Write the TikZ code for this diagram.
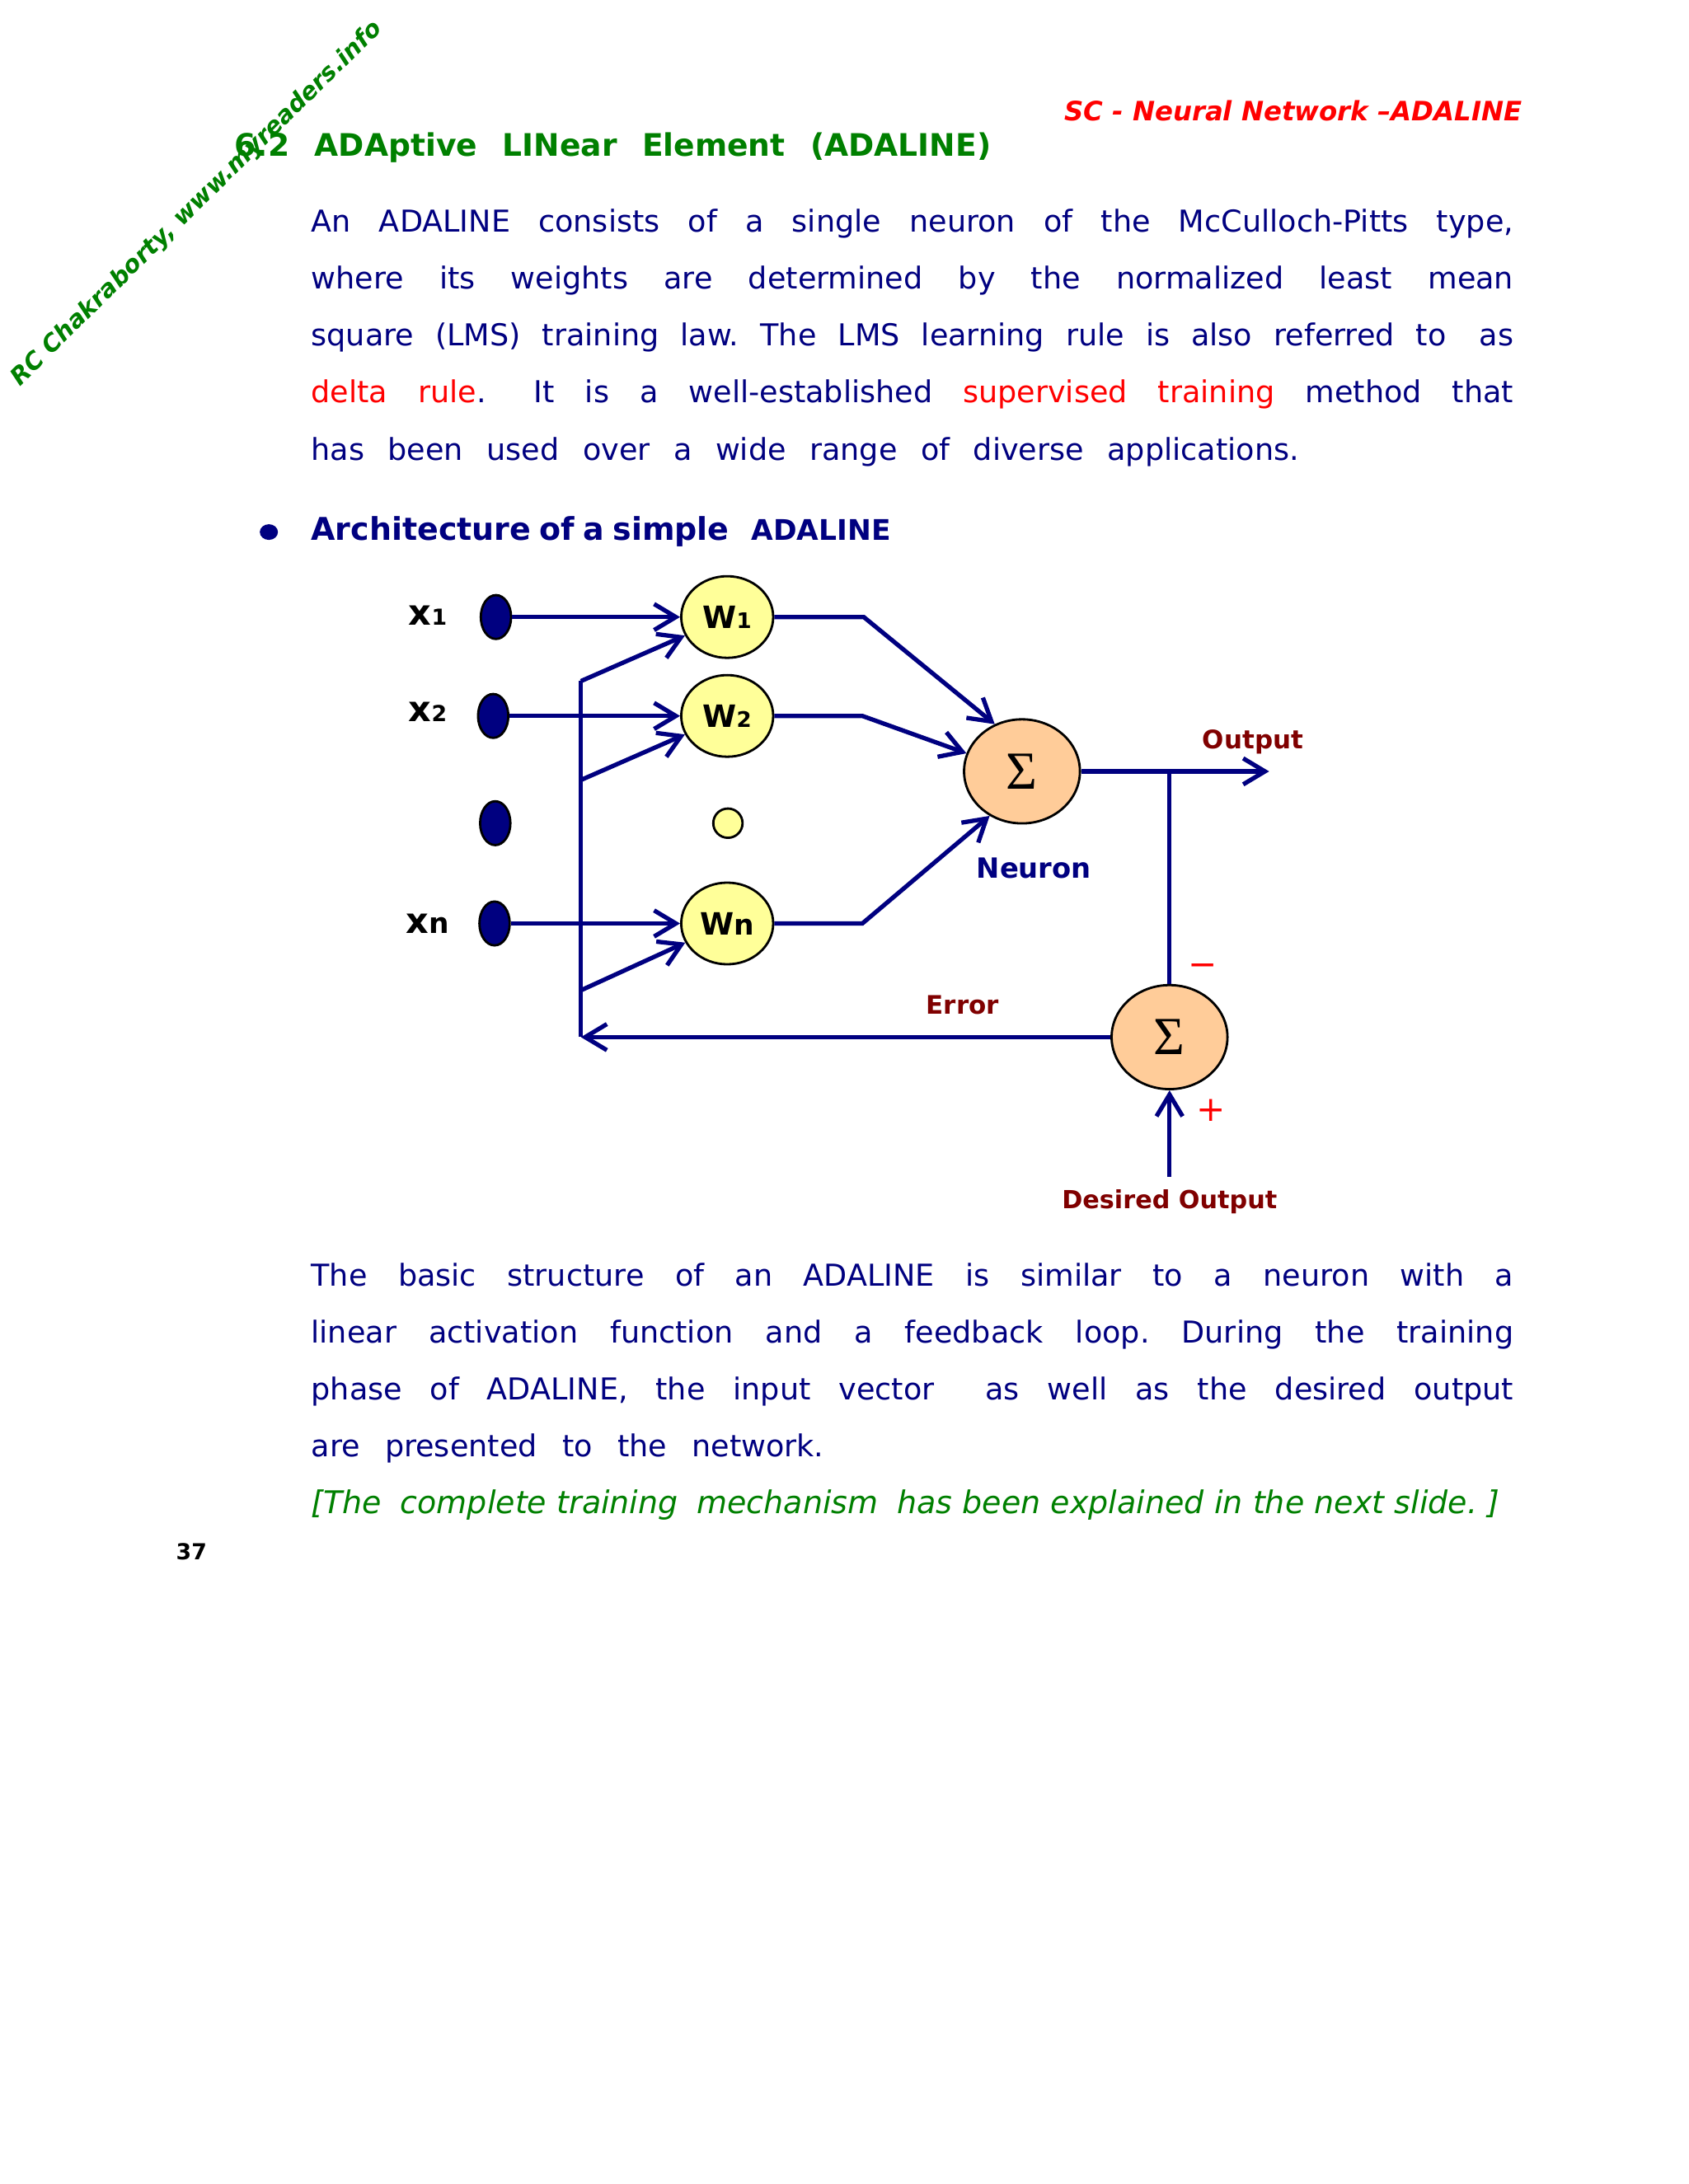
\documentclass[tikz,border=0pt]{standalone}
\usepackage{fontspec}
\setmainfont{DejaVu Sans}
\newfontfamily\sigmafont{Liberation Serif}
\usepackage{tikz}
\usepackage{xcolor}
\usetikzlibrary{shapes.geometric, arrows.meta, positioning, calc}
\definecolor{ADA_Navy}{HTML}{000080}
\definecolor{ADA_Green}{HTML}{008000}
\definecolor{ADA_Red}{HTML}{FF0000}
\definecolor{ADA_DarkRed}{HTML}{800000}
\definecolor{ADA_Yellow}{HTML}{FFFF99}
\definecolor{ADA_Peach}{HTML}{FFCC99}
\newlength{\dpx}
\setlength{\dpx}{0.016898cm}
\newcommand{\fsz}[1]{\fontsize{#1}{#1}\selectfont}
\frenchspacing

\begin{document}
\begin{tikzpicture}[x=0.016898cm, y=-0.016898cm,
    body/.style={anchor=base west, inner sep=0pt, text=ADA_Navy, font=\fsz{10.4}},
    wnode/.style={ellipse, draw=black, line width=0.8pt, fill=ADA_Yellow, minimum width=1.115cm, minimum height=0.99cm, inner sep=0pt, font=\bfseries\fsz{10.6}},
    innode/.style={ellipse, draw=black, line width=0.8pt, fill=ADA_Navy, minimum width=0.367cm, minimum height=0.532cm, inner sep=0pt},
    sumnode/.style={ellipse, draw=black, line width=0.8pt, fill=ADA_Peach, minimum width=1.405cm, minimum height=1.262cm, inner sep=0pt, font=\sigmafont\fsz{18.5}},
    xlabel/.style={anchor=base west, inner sep=0pt, font=\bfseries\fsz{12.2}},
    lbl/.style={anchor=base, inner sep=0pt, text=ADA_DarkRed, font=\bfseries\fsz{8.8}},
    sign/.style={inner sep=0pt, text=ADA_Red, font=\fsz{12}},
    wire/.style={ADA_Navy, line width=1.5pt},
    arr/.style={wire, -{Straight Barb[length=7.5pt,width=9pt]}}]

    % Page
    \fill[white] (0,0) rectangle (1212,1568);
    \useasboundingbox (0,0) rectangle (1212,1568);

    % Watermark and header
    \node[anchor=base west, inner sep=0pt, rotate=44.5, text=ADA_Green, font=\bfseries\itshape\fsz{8.3}] (wm) at (14,278) {RC Chakraborty, www.myreaders.info};
    \node[anchor=base east, inner sep=0pt, text=ADA_Red, font=\bfseries\itshape\fsz{9.2}] (hdr) at (1093,86.7) {SC - Neural Network –ADALINE};
    \node[anchor=base west, inner sep=0pt, text=ADA_Green, font=\bfseries\fsz{10.7}] (title) at (168,112) {\makebox[543\dpx][s]{6.2 ADAptive LINear Element (ADALINE)}};

    % First paragraph
    \node[body] (p1a) at (223,166.6) {\makebox[863\dpx][s]{An ADALINE consists of a single neuron of the McCulloch-Pitts type,}};
    \node[body] (p1b) at (223,207.5) {\makebox[863\dpx][s]{where its weights are determined by the normalized least mean}};
    \node[body] (p1c) at (223,248.4) {\makebox[863\dpx][s]{square (LMS) training law. The LMS learning rule is also referred to\hspace{4pt} as}};
    \node[body] (p1d) at (223,289.3) {\makebox[863\dpx][s]{{\color{ADA_Red}delta rule}.\hspace{6pt} It is a well-established {\color{ADA_Red}supervised training} method that}};
    \node[body] (p1e) at (223,330.2) {\makebox[709\dpx][s]{has been used over a wide range of diverse applications.}};

    % Heading of the figure
    \node[ellipse, fill=ADA_Navy, minimum width=0.22cm, minimum height=0.19cm, inner sep=0pt] (bul) at (193,382) {};
    \node[body, font=\bfseries\fsz{10.8}] (arch) at (223,387.6) {\makebox[300\dpx][s]{Architecture of a simple}};
    \node[body, font=\bfseries\fsz{9.8}] (archb) at (539,387.6) {ADALINE};

    % Inputs
    \node[xlabel] (lx1) at (293,449) {x{\fsz{7.6}1}};
    \node[xlabel] (lx2) at (293,518) {x{\fsz{7.6}2}};
    \node[xlabel] (lxn) at (291,670) {x{\fsz{9.8}n}};
    \node[innode] (in1) at (356,443) {};
    \node[innode] (in2) at (354,514) {};
    \node[innode] (in3) at (355.5,591) {};
    \node[innode] (inn) at (355,663) {};

    % Weights
    \node[wnode] (w1) at (522,443) {W{\fsz{7.4}1}};
    \node[wnode] (w2) at (522,514) {W{\fsz{7.4}2}};
    \node[circle, draw=black, line width=0.8pt, fill=ADA_Yellow, minimum size=0.355cm, inner sep=0pt] (wdot) at (522.5,591) {};
    \node[wnode] (wn) at (522,663) {W{\fsz{9.8}n}};

    % Summing units
    \node[sumnode] (s1) at (733.6,553.8) {Σ};
    \node[sumnode] (s2) at (839.5,744.6) {Σ};

    % Corner points
    \coordinate (b1) at (620,443);
    \coordinate (b2) at (619,514);
    \coordinate (bn) at (619,663);
    \coordinate (fbT) at (417,489);
    \coordinate (fb2) at (417,560);
    \coordinate (fbn) at (417,711);
    \coordinate (fbB) at (417,744.6);
    \coordinate (jn) at (839.5,553.8);
    \coordinate (outEnd) at (911,553.8);
    \coordinate (dIn) at (839.5,845);

    % Input connections
    \draw[arr] (in1) -- (w1);
    \draw[arr] (in2) -- (w2);
    \draw[arr] (inn) -- (wn);

    % Feedback line and its branches
    \draw[wire] (fbB) -- (fbT);
    \draw[arr] (fbT) -- (w1);
    \draw[arr] (fb2) -- (w2);
    \draw[arr] (fbn) -- (wn);

    % Weights to neuron
    \draw[arr] (w1.east) -- (b1) -- (s1.120);
    \draw[arr] (w2.east) -- (b2) -- (s1.162);
    \draw[arr] (wn.east) -- (bn) -- (s1.234);

    % Output, error and desired output
    \draw[arr] (s1.east) -- (outEnd);
    \draw[wire] (jn) -- (s2.north);
    \draw[arr] (s2.west) -- (fbB);
    \draw[arr] (dIn) -- (s2.south);

    % Labels
    \node[body, font=\bfseries\fsz{9.6}] (neu) at (700.6,630.5) {Neuron};
    \node[lbl, anchor=base west] (outl) at (862.8,537.6) {Output};
    \node[lbl, anchor=base west] (errl) at (664.5,727.9) {Error};
    \node[lbl, font=\bfseries\fsz{8.6}] (desl) at (839.5,867.9) {Desired Output};
    \node[sign] (minus) at (863.5,696.6) {−};
    \node[sign] (plus) at (869.5,796.9) {+};

    % Second paragraph
    \node[body] (p2a) at (223,923.6) {\makebox[863\dpx][s]{The basic structure of an ADALINE is similar to a neuron with a}};
    \node[body] (p2b) at (223,964.4) {\makebox[863\dpx][s]{linear activation function and a feedback loop. During the training}};
    \node[body] (p2c) at (223,1005.1) {\makebox[863\dpx][s]{phase of ADALINE, the input vector\hspace{8pt} as well as the desired output}};
    \node[body] (p2d) at (223,1045.9) {\makebox[368\dpx][s]{are presented to the network.}};
    \node[body, text=ADA_Green, font=\itshape\fsz{10.8}] (note) at (223,1086.6) {\makebox[853\dpx][s]{[The\hspace{3pt} complete training\hspace{3pt} mechanism\hspace{3pt} has been explained in the next slide. ]}};

    % Page number
    \node[anchor=base west, inner sep=0pt, font=\bfseries\fsz{7.6}] (pg) at (126,1120) {37};
\end{tikzpicture}
\end{document}
